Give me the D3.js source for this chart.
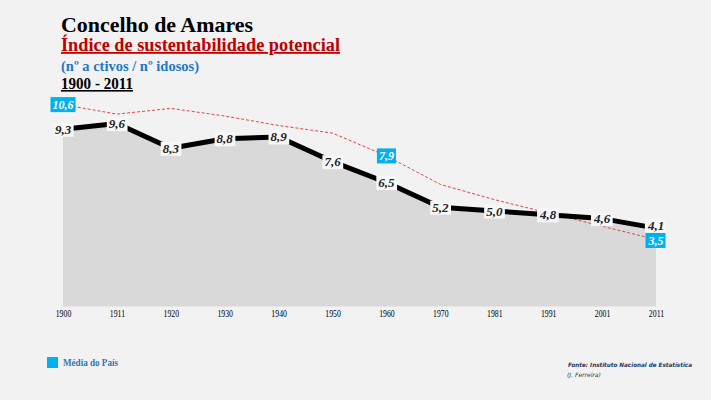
<!DOCTYPE html>
<html><head><meta charset="utf-8">
<script src="https://cdn.jsdelivr.net/npm/d3@7"></script>
<style>body{margin:0;background:#f2f2f2;}svg{display:block;}</style>
</head><body>
<script>
const years = ["1900","1911","1920","1930","1940","1950","1960","1970","1981","1991","2001","2011"];
const concelho = [9.3,9.6,8.3,8.8,8.9,7.6,6.5,5.2,5.0,4.8,4.6,4.1];
const pais = [10.6,10.1,10.4,10.0,9.5,9.1,7.9,6.4,5.6,4.9,4.2,3.5];
const paisLabelIdx = [0,6,11];

const W=711,H=400;
const svg=d3.select("body").append("svg").attr("width",W).attr("height",H);
svg.append("rect").attr("width",W).attr("height",H).attr("fill","#f2f2f2");

const x=d3.scalePoint().domain(years).range([63,656]);
const y=d3.scaleLinear().domain([0,10]).range([306,116]);

const serif='"Liberation Serif","DejaVu Serif",serif';

// area
const area=d3.area().x((d,i)=>x(years[i])).y0(y(0)).y1(d=>y(d));
svg.append("path").datum(concelho).attr("d",area).attr("fill","#d9d9d9");

// axis
const ax=svg.append("g").attr("transform",`translate(0,${y(0)})`)
 .call(d3.axisBottom(x).tickSize(0).tickPadding(4));
ax.select(".domain").attr("stroke","#e6e6e6");
ax.selectAll("text").attr("font-family",serif).attr("font-size",9.5).attr("fill","#000")
 .attr("transform","scale(0.82,1)");

// national dashed
const line=d3.line().x((d,i)=>x(years[i])).y(d=>y(d));
svg.append("path").datum(pais).attr("d",line).attr("fill","none")
 .attr("stroke","#e0474c").attr("stroke-width",1).attr("stroke-dasharray","3,2");

// concelho line
svg.append("path").datum(concelho).attr("d",line).attr("fill","none")
 .attr("stroke","#000").attr("stroke-width",5).attr("stroke-linejoin","round");

const fmt=v=>v.toFixed(1).replace(".",",");

// concelho labels
concelho.forEach((v,i)=>{
  const g=svg.append("g").attr("transform",`translate(${x(years[i])},${y(v)-(i===11?3:0)})`);
  const t=g.append("text").attr("text-anchor","middle").attr("dy","0.35em")
   .attr("font-family",serif).attr("font-style","italic").attr("font-weight","bold")
   .attr("font-size",13).attr("fill","#222").text(fmt(v));
  const b=t.node().getBBox();
  g.insert("rect","text").attr("x",b.x-2).attr("y",b.y+1).attr("width",b.width+4).attr("height",b.height-1)
   .attr("fill","#f7f7f7");
});

// pais labels
paisLabelIdx.forEach(i=>{
  const v=pais[i];
  const g=svg.append("g").attr("transform",`translate(${x(years[i])},${y(v)+(i===11?1:0)})`);
  const t=g.append("text").attr("text-anchor","middle").attr("dy","0.35em")
   .attr("font-family",serif).attr("font-style","italic").attr("font-weight","bold")
   .attr("font-size",12).attr("fill","#fff").text(fmt(v));
  const b=t.node().getBBox();
  g.insert("rect","text").attr("x",b.x-2).attr("y",-7.5).attr("width",b.width+4).attr("height",15)
   .attr("fill","#00b0f0");
});

// titles
svg.append("text").attr("x",61).attr("y",32).attr("font-family",serif).attr("font-weight","bold")
 .attr("font-size",22).attr("fill","#000").text("Concelho de Amares")
 .attr("textLength",192).attr("lengthAdjust","spacingAndGlyphs");
svg.append("text").attr("x",61).attr("y",51).attr("font-family",serif).attr("font-weight","bold")
 .attr("font-size",18).attr("fill","#c00000").attr("text-decoration","underline")
 .text("Índice de sustentabilidade potencial")
 .attr("textLength",279).attr("lengthAdjust","spacingAndGlyphs");
svg.append("text").attr("x",61).attr("y",71).attr("font-family",serif).attr("font-weight","bold")
 .attr("font-size",14).attr("fill","#1f78c8").text("(nº a ctivos / nº idosos)")
 .attr("textLength",138).attr("lengthAdjust","spacingAndGlyphs");
svg.append("text").attr("x",61).attr("y",89).attr("font-family",serif).attr("font-weight","bold")
 .attr("font-size",16).attr("fill","#000").attr("text-decoration","underline").text("1900 - 2011")
 .attr("textLength",72).attr("lengthAdjust","spacingAndGlyphs");

// legend
svg.append("rect").attr("x",47).attr("y",357).attr("width",11).attr("height",11).attr("fill","#00b0f0");
svg.append("text").attr("x",63).attr("y",366).attr("font-family",serif).attr("font-weight","bold")
 .attr("font-size",10).attr("fill","#2e75b6").text("Média do País")
 .attr("textLength",55).attr("lengthAdjust","spacingAndGlyphs");

// source
svg.append("text").attr("x",568).attr("y",367).attr("font-family",'"DejaVu Sans",sans-serif').attr("font-weight","bold")
 .attr("font-style","italic").attr("font-size",6).attr("fill","#1f3864")
 .text("Fonte: Instituto Nacional de Estatística").attr("textLength",124).attr("lengthAdjust","spacingAndGlyphs");
svg.append("text").attr("x",567).attr("y",377).attr("font-family",'"DejaVu Sans",sans-serif')
 .attr("font-style","italic").attr("font-size",6).attr("fill","#333").text("(J. Ferreira)");
</script>
</body></html>
